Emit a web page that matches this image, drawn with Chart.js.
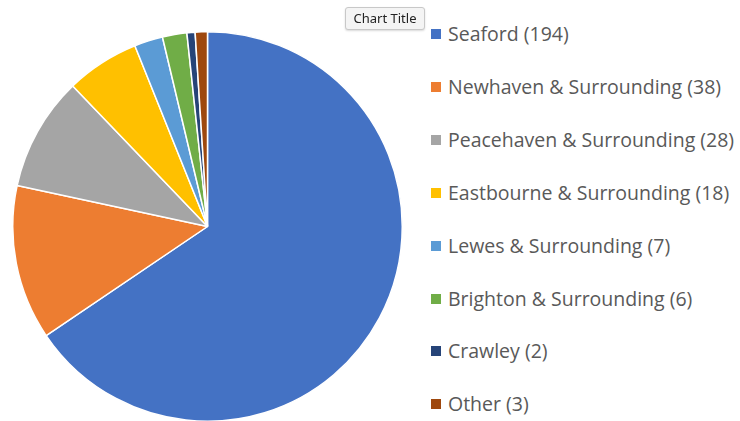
<!DOCTYPE html>
<html>
<head>
<meta charset="utf-8">
<script src="https://cdn.jsdelivr.net/npm/chart.js@4/dist/chart.umd.min.js"></script>
<style>
  html, body { margin: 0; padding: 0; background: #fff; }
  #wrap { position: relative; width: 740px; height: 421px; overflow: hidden; font-family: "Open Sans", "Noto Sans", sans-serif; }
  #pieBox { position: absolute; left: 12px; top: 31px; width: 391px; height: 391px; }
  #legend { position: absolute; left: 431px; top: 0; }
  .item { position: absolute; left: 0; white-space: nowrap; color: #595959; font-size: 19.5px; line-height: 24px; }
  .item span.sw { display: inline-block; width: 10px; height: 10px; margin-right: 7px; vertical-align: 2px; }
  #title { position: absolute; left: 345px; top: 7px; width: 80px; height: 23px; box-sizing: border-box;
           background: #f4f4f4; border: 1px solid #c8c8c8; border-radius: 3px; box-shadow: 0 1px 2px rgba(0,0,0,0.15);
           font-size: 13px; line-height: 21px; text-align: center; color: #222; font-family: "Noto Sans", sans-serif; }
</style>
</head>
<body>
<div id="wrap">
  <div id="pieBox"><canvas id="pie"></canvas></div>
  <div id="legend"></div>
  <div id="title">Chart Title</div>
</div>
<script>
// chart data
const labels = ['Seaford', 'Newhaven & Surrounding', 'Peacehaven & Surrounding', 'Eastbourne & Surrounding',
                'Lewes & Surrounding', 'Brighton & Surrounding', 'Crawley', 'Other'];
const counts = [194, 38, 28, 18, 7, 6, 2, 3];
const colors = ['#4472C4', '#ED7D31', '#A5A5A5', '#FFC000', '#5B9BD5', '#70AD47', '#264478', '#9E480E'];

new Chart(document.getElementById('pie'), {
    type: 'pie',
    data: {
        labels: labels,
        datasets: [{
            data: counts,
            backgroundColor: colors,
            borderColor: '#ffffff',
            borderWidth: 1.5
        }]
    },
    options: {
        responsive: true,
        maintainAspectRatio: false,
        animation: false,
        layout: { padding: 0 },
        plugins: {
            legend: { display: false },
            tooltip: { enabled: false }
        }
    }
});

// legend on the right
const legend = document.getElementById('legend');
labels.forEach(function (name, i) {
    const row = document.createElement('div');
    row.className = 'item';
    row.style.top = (22 + i * 52.9) + 'px';
    row.innerHTML = '<span class="sw" style="background:' + colors[i] + '"></span>' + name + ' (' + counts[i] + ')';
    legend.appendChild(row);
});
</script>
</body>
</html>
